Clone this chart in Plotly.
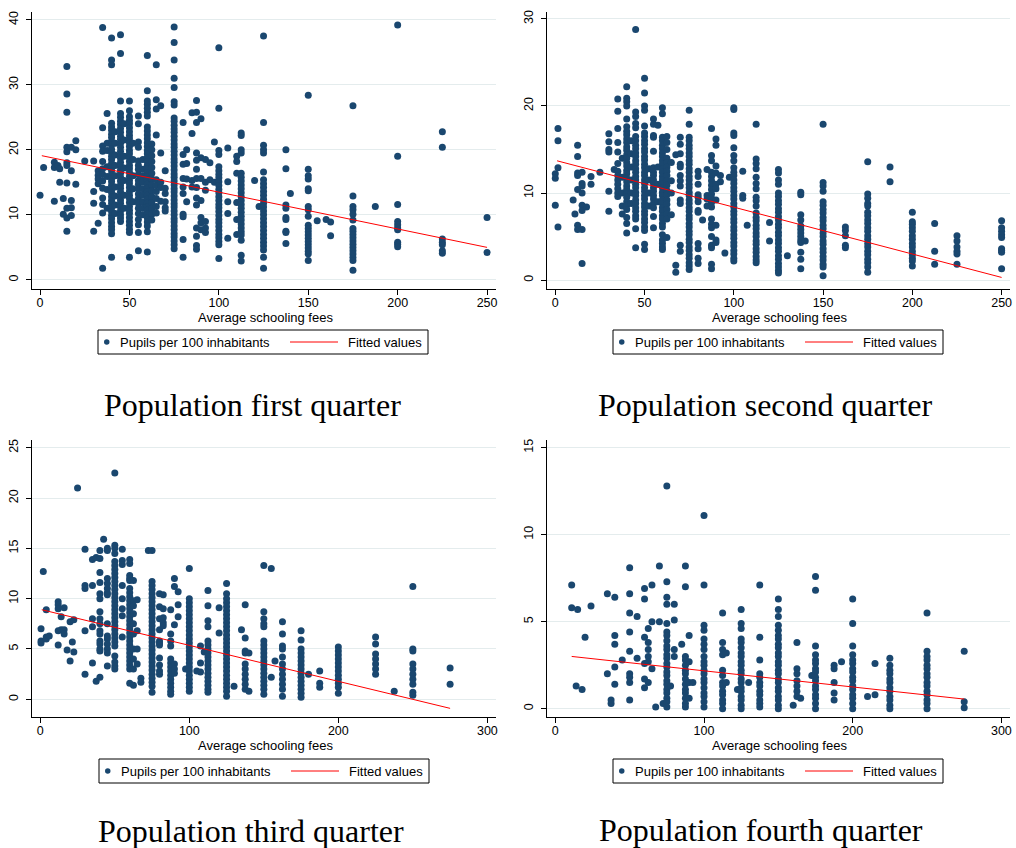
import plotly.graph_objects as go

# ---------------- data: fee values and pupils per 100 inhabitants ----------------
q1_fees = [0, 2, 8, 10, 11, 13, 15, 17.5, 20, 25, 30, 32.5, 35, 37.5, 40, 42, 45, 47, 50, 52,
           55, 57.5, 60, 62.5, 65, 67.5, 70, 75, 80, 82, 85, 87.5, 90, 92.5, 95, 97.5, 100, 105,
           110, 112.5, 120, 122.5, 125, 137.5, 140, 150, 155, 160, 162.5, 175, 187.5, 200, 225, 250]
q1_pupils = [
    [13.0], [17.3], [18.1, 17.3, 12.1], [17.6], [17.1, 15.0], [12.5, 10.1],
    [32.8, 28.6, 25.8, 20.4, 19.7, 18.0, 17.6, 14.9, 11.0, 9.5, 7.5],
    [20.4, 16.8, 12.2, 11.1, 9.9], [21.4, 20.0, 14.7], [18.3], [18.3, 13.6, 11.8, 7.5],
    [16.8, 16.1, 15.5, 14.8, 8.7],
    [38.8, 23.4, 20.6, 19.8, 18.2, 17.1, 16.2, 15.2, 14.1, 12.6, 11.6, 10.3, 1.8],
    [25.6, 21.0, 19.9, 17.4, 15.9, 13.9, 11.0],
    [37.2, 33.8, 33.1, 24.1, 23.5, 23.0, 22.4, 21.9, 21.3, 20.8, 20.1, 19.6, 19.0, 18.5, 17.9, 17.3,
     16.8, 16.2, 15.6, 15.1, 14.5, 13.9, 13.4, 12.8, 12.2, 11.7, 11.1, 10.5, 9.9, 9.4, 8.8, 8.2,
     7.7, 7.1, 3.5],
    [22.8, 21.0, 19.2, 17.6, 16.0, 14.3, 12.9, 11.5, 10.2],
    [37.7, 34.8, 27.5, 25.6, 25.0, 24.4, 23.9, 23.3, 22.7, 22.1, 21.6, 21.0, 20.4, 19.8, 19.2, 18.7,
     18.1, 17.5, 16.9, 16.4, 15.8, 15.2, 14.6, 14.1, 13.5, 12.9, 12.3, 11.8, 11.2, 10.6, 10.0, 9.5, 9.0],
    [24.0, 21.5, 19.0, 17.2, 15.3, 13.0, 11.0],
    [27.5, 26.0, 25.1, 24.5, 24.0, 23.4, 22.8, 22.2, 21.7, 21.1, 20.5, 19.9, 19.4, 18.8, 18.2, 17.6,
     17.1, 16.5, 15.9, 15.3, 14.8, 14.2, 13.6, 13.0, 12.5, 11.9, 11.3, 10.7, 10.2, 9.6, 9.0, 8.4,
     7.8, 7.3, 3.5],
    [21.0, 18.5, 16.0, 14.0, 12.0],
    [25.2, 24.0, 21.2, 20.4, 18.3, 17.6, 17.0, 16.2, 15.3, 14.7, 14.0, 13.2, 12.5, 11.8, 11.0, 10.2,
     9.3, 8.5, 7.3, 4.5],
    [18.5, 17.0, 16.0, 15.0, 14.0, 13.0, 12.0, 11.0, 10.0],
    [34.5, 29.1, 27.5, 27.0, 26.4, 25.8, 25.2, 23.5, 22.9, 22.3, 21.7, 21.1, 20.5, 19.9, 19.4, 18.8,
     18.2, 17.6, 17.0, 16.5, 15.9, 15.3, 14.7, 14.1, 13.6, 13.0, 12.4, 11.8, 11.2, 10.7, 10.1, 9.5,
     8.9, 8.3, 7.4, 4.3],
    [20.9, 20.0, 19.1, 18.2, 17.3, 16.4, 15.5, 14.6, 13.7, 12.8, 11.9, 11.0, 10.1, 9.2],
    [33.1, 27.7, 26.3, 22.3, 15.4, 14.5, 13.6, 12.5, 11.3, 10.3],
    [26.8, 19.5, 15.0, 14.2, 12.1],
    [16.8, 14.1, 13.3, 12.0, 11.1, 10.6],
    [38.9, 36.5, 33.8, 31.0, 29.6, 27.4, 26.9, 24.9, 24.4, 23.8, 23.2, 22.7, 22.1, 21.5, 20.9, 20.4,
     19.8, 19.2, 18.6, 18.1, 17.5, 16.9, 16.3, 15.8, 15.2, 14.6, 14.0, 13.5, 12.9, 12.3, 11.7, 11.2,
     10.6, 10.0, 9.4, 8.9, 8.3, 7.7, 7.1, 6.6, 6.0, 5.4, 4.8],
    [24.2, 19.3, 17.8, 15.6, 14.3, 13.3, 10.1, 9.7, 6.2, 3.5],
    [20.0, 17.9, 15.5, 12.0],
    [25.7, 22.5, 15.3, 14.3],
    [27.6, 25.8, 24.2, 19.5, 18.4, 17.0, 15.6, 14.2, 12.6, 11.5, 8.0, 6.7, 5.3, 4.7],
    [24.8, 18.8, 15.6, 12.2, 9.6, 8.8, 7.7],
    [18.5, 15.0, 13.8, 9.0, 8.0, 7.3],
    [18.0, 15.4],
    [21.2, 15.0],
    [35.7, 26.4, 19.9, 19.3, 17.4, 16.8, 16.2, 15.7, 15.1, 14.5, 13.9, 13.4, 12.8, 12.2, 11.6, 11.1,
     10.5, 9.9, 9.3, 8.8, 8.2, 7.6, 7.0, 6.5, 5.9, 5.4, 3.3],
    [20.3, 15.1, 12.0, 10.2, 6.4],
    [19.0, 18.2, 16.4, 11.9, 9.3, 7.0],
    [22.6, 22.2, 20.0, 19.5, 16.4, 15.8, 15.2, 14.6, 14.0, 13.4, 12.8, 12.2, 11.6, 11.0, 10.4, 9.8,
     9.2, 8.6, 8.0, 7.4, 6.9, 6.1, 3.8, 2.9],
    [15.3],
    [11.3],
    [37.5, 24.2, 20.7, 20.0, 19.5, 16.6, 15.4, 14.8, 14.2, 13.6, 13.0, 12.4, 11.8, 11.2, 10.6, 10.0,
     9.4, 8.8, 8.2, 7.6, 7.0, 6.4, 5.8, 5.2, 4.6, 3.5, 1.8],
    [20.0, 17.1, 11.5, 11.0, 9.6, 9.3, 7.5, 7.3, 5.6],
    [13.3],
    [28.4, 17.0, 16.0, 15.5, 14.0, 13.7, 11.3, 10.8, 9.8, 8.4, 7.9, 7.4, 6.9, 6.4, 5.9, 5.4, 4.9,
     4.4, 4.0, 3.0],
    [9.1],
    [9.3],
    [8.9, 6.8],
    [26.8, 12.9, 11.3, 10.8, 10.1, 9.2, 7.9, 7.5, 7.0, 6.5, 6.0, 5.5, 5.0, 4.5, 4.0, 3.5, 3.0, 1.5],
    [11.3],
    [39.2, 19.0, 11.6, 9.0, 8.5, 8.0, 7.7, 5.8, 5.5, 5.1],
    [22.8, 20.4, 6.3, 5.8, 5.4, 4.5, 4.1],
    [9.6, 4.2],
]
q1_fit_x = [1, 250]
q1_fit_y = [19.1, 5.0]

q2_fees = [0, 1.5, 10, 11, 12.5, 15, 17.5, 20, 25, 30, 33, 35, 37.5, 40, 42.5, 45, 50, 52.5, 55,
           57.5, 60, 62.5, 65, 67.5, 70, 75, 80, 82.5, 85, 87.5, 90, 92.5, 95, 97.5, 100, 105,
           107.5, 112.5, 120, 125, 130, 137.5, 140, 150, 162.5, 175, 187.5, 200, 212.5, 225, 250]
q2_pupils = [
    [12.2, 11.7, 8.6], [17.4, 16.0, 12.9, 6.1], [9.2], [7.6],
    [15.5, 14.2, 12.3, 12.0, 10.4, 6.3, 5.8],
    [12.4, 11.1, 10.8, 10.0, 8.6, 8.0, 5.8, 1.9], [8.4], [11.9, 11.0], [12.4],
    [16.8, 15.9, 15.0, 14.7, 10.2, 7.9], [12.7],
    [20.8, 19.4, 17.4, 15.8, 14.7, 13.4, 12.5, 12.0, 11.5, 11.0, 10.5, 10.0, 9.6],
    [14.0, 11.8, 10.0, 8.5, 7.6],
    [22.2, 20.9, 20.5, 20.0, 18.5, 17.6, 17.1, 16.7, 16.2, 15.8, 15.3, 14.9, 14.4, 14.0, 13.5, 13.1,
     12.6, 12.2, 11.7, 11.3, 10.8, 10.4, 9.9, 9.5, 9.0, 8.6, 8.1, 7.2, 6.5, 5.4],
    [16.0, 14.5, 13.0, 11.5, 10.0, 8.8],
    [28.8, 19.3, 18.8, 18.0, 17.5, 16.5, 16.0, 15.5, 15.1, 14.6, 14.2, 13.7, 13.3, 12.8, 12.4, 11.9,
     11.5, 11.0, 10.6, 10.1, 9.7, 9.2, 8.8, 8.3, 7.9, 7.4, 7.0, 5.9, 3.7],
    [23.2, 21.5, 20.0, 19.5, 17.7, 16.9, 16.5, 16.0, 15.6, 15.1, 14.7, 14.2, 13.8, 13.3, 12.9, 12.4,
     12.0, 11.5, 11.1, 10.6, 10.2, 9.7, 9.3, 8.8, 8.4, 7.9, 7.5, 7.0, 6.6, 6.1, 5.7, 4.1, 3.5],
    [12.8, 11.5, 10.0, 8.5],
    [18.5, 17.9, 16.6, 16.4, 14.8, 12.9, 12.4, 12.0, 11.5, 11.1, 10.6, 10.2, 9.7, 9.3, 8.8, 8.3,
     7.3, 6.0],
    [17.8, 13.0, 11.0, 9.0],
    [19.8, 19.1, 16.4, 16.0, 15.5, 15.1, 14.6, 14.2, 13.7, 13.3, 12.8, 12.4, 11.9, 11.5, 11.0, 10.6,
     10.1, 9.7, 9.2, 8.8, 8.3, 7.9, 7.4, 7.0, 6.5, 6.1, 5.2, 4.6, 4.2, 3.8, 3.5],
    [16.5, 15.8, 15.0, 14.0, 13.5, 13.0, 12.5, 12.0, 11.4, 10.9, 10.3, 9.8, 9.2, 8.7, 8.1, 7.6,
     7.0, 4.9],
    [13.5, 11.4, 10.0, 7.5],
    [14.4, 1.7, 0.9],
    [16.4, 15.6, 14.5, 13.3, 13.0, 12.0, 11.4, 10.8, 9.2, 8.8, 4.0, 3.3],
    [19.5, 17.9, 16.4, 16.0, 15.5, 15.1, 14.6, 14.2, 13.7, 13.3, 12.8, 12.4, 11.9, 11.5, 11.0, 10.6,
     10.1, 9.7, 9.2, 8.8, 8.3, 7.9, 7.4, 7.0, 6.5, 6.1, 5.6, 5.2, 4.7, 4.3, 3.8, 3.4, 2.9, 2.5,
     2.0, 1.6, 1.2],
    [12.5, 11.9, 11.0, 9.8, 9.5, 9.0, 8.0, 7.8, 4.2, 3.6, 2.5, 1.9],
    [6.9],
    [12.7, 9.7, 9.3, 8.5],
    [17.4, 14.3, 13.7, 12.4, 11.9, 11.4, 10.9, 10.4, 9.9, 9.4, 8.9, 8.4, 7.0, 6.4, 6.0, 5.0, 4.0,
     3.7, 1.8, 1.3],
    [16.2, 15.5, 13.1, 12.3, 11.0, 10.5, 9.2, 6.3, 4.6, 4.3],
    [12.0, 11.3],
    [3.1],
    [11.8],
    [19.8, 19.6, 16.9, 16.6, 15.2, 14.3, 13.7, 12.9, 12.4, 12.0, 11.5, 11.1, 10.6, 10.2, 9.7, 9.3,
     8.8, 8.4, 7.9, 7.5, 7.0, 6.6, 6.1, 5.7, 5.2, 4.8, 4.3, 3.9, 3.4, 3.0, 2.5, 2.2],
    [12.5, 9.7, 9.4],
    [6.3],
    [17.9, 13.9, 13.4, 12.8, 11.8, 11.1, 10.5, 9.5, 9.1, 8.5, 7.7, 7.2, 6.8, 6.3, 5.9, 5.4, 5.0,
     4.5, 4.1, 3.6, 3.2, 2.7, 2.3, 2.0],
    [6.6, 4.5],
    [12.7, 12.3, 11.5, 11.0, 10.0, 9.6, 9.1, 8.7, 8.2, 7.8, 7.3, 6.9, 6.4, 6.0, 5.5, 5.1, 4.6, 4.2,
     3.7, 3.3, 2.8, 2.4, 1.9, 1.5, 1.1, 0.8],
    [2.8],
    [10.1, 9.8, 7.5, 6.9, 6.2, 5.8, 5.4, 5.0, 4.6, 4.3, 3.2, 2.4, 1.3],
    [4.5],
    [17.9, 11.2, 10.8, 10.2, 9.0, 8.6, 8.1, 7.7, 7.2, 6.8, 6.3, 5.9, 5.4, 5.0, 4.5, 4.1, 3.6, 3.2,
     2.7, 2.3, 1.8, 1.5, 0.5],
    [6.1, 5.7, 5.1, 4.0, 3.7],
    [13.6, 9.9, 9.4, 8.8, 8.5, 7.8, 7.4, 6.9, 6.5, 6.0, 5.6, 5.1, 4.7, 4.2, 3.8, 3.3, 2.9, 2.4,
     2.0, 1.5, 0.9],
    [13.0, 11.3],
    [7.8, 6.7, 6.4, 6.0, 5.6, 5.1, 4.7, 4.2, 3.8, 3.3, 2.9, 2.5, 2.2, 1.6],
    [6.5, 3.3, 1.8],
    [5.1, 4.5, 3.8, 3.3, 3.0, 1.8],
    [6.8, 6.0, 5.6, 5.2, 4.9, 3.6, 3.4, 3.2, 1.3],
]
q2_fit_x = [1, 250]
q2_fit_y = [13.7, 0.3]

q3_fees = [0.5, 2, 4, 6, 12, 14, 16, 18, 20, 21.5, 22.5, 25, 30, 35, 37.5, 40, 42.5, 45, 50, 55,
           60, 62.5, 65, 67.5, 72.5, 75, 80, 82.5, 87.5, 90, 92.5, 97.5, 100, 105, 107.5, 110,
           112.5, 120, 125, 130, 135, 137.5, 140, 150, 155, 157.5, 162.5, 175, 180, 187.5, 200,
           225, 237.5, 250, 275]
q3_pupils = [
    [7.0, 5.8, 5.6], [12.7], [8.9, 6.2, 6.0], [6.3], [9.7, 9.4, 9.0, 6.8, 5.4], [8.2, 6.9],
    [9.1, 6.9, 6.5], [4.9], [7.7, 3.8], [5.7], [7.9, 4.7], [21.0],
    [14.9, 11.3, 11.0, 6.8, 2.5], [13.9, 11.3, 8.0, 7.2, 3.6], [14.1, 1.8],
    [14.8, 14.0, 12.6, 11.6, 10.5, 10.0, 8.7, 8.0, 7.5, 6.8, 6.5, 5.8, 5.5, 5.0, 4.8, 2.2],
    [15.9],
    [15.0, 14.8, 12.0, 11.5, 11.0, 10.6, 10.4, 7.5, 6.3, 6.0, 5.5, 5.0, 4.6, 3.3],
    [22.5, 15.3, 15.0, 14.5, 13.7, 13.3, 12.9, 12.5, 12.1, 11.7, 11.3, 10.9, 10.5, 10.1, 9.7, 9.3,
     8.9, 8.5, 8.1, 7.7, 7.3, 6.9, 6.5, 6.1, 5.7, 5.3, 4.3, 3.7, 3.3, 3.0],
    [14.9, 13.8, 13.4, 11.3, 10.0, 9.0, 8.3, 6.2],
    [13.9, 13.5, 12.3, 12.0, 11.8, 11.0, 10.6, 10.2, 9.8, 9.4, 9.0, 8.6, 8.2, 7.8, 7.4, 7.0, 6.6,
     6.2, 5.8, 5.4, 5.0, 4.6, 4.2, 3.8, 3.4, 3.0, 1.6],
    [11.8, 9.8, 9.3, 8.5, 7.5, 6.5, 5.0, 4.0, 3.0, 1.4],
    [9.9, 6.8, 5.0, 3.5],
    [2.1, 1.7],
    [14.8],
    [14.8, 11.7, 11.3, 10.9, 10.5, 10.1, 9.7, 9.3, 8.9, 8.5, 8.1, 7.7, 7.3, 6.9, 6.5, 6.1, 5.7,
     5.3, 4.9, 4.5, 4.1, 3.7, 3.3, 2.9, 2.5, 2.1, 1.7, 1.3, 0.7],
    [10.5, 9.2, 8.0, 6.9, 5.8, 5.6, 5.4, 4.1, 3.4, 2.8, 2.5],
    [10.4, 9.0, 8.1, 7.6, 7.3],
    [8.9, 6.5, 5.8, 5.3, 4.0, 3.6, 3.2, 2.8, 2.4, 2.0, 1.6, 1.2, 0.8, 0.5],
    [12.0, 11.2, 7.4, 3.5, 3.0, 2.6],
    [10.7, 9.4, 8.2],
    [3.0],
    [13.0, 10.0, 9.6, 9.2, 8.8, 8.4, 8.0, 7.6, 7.2, 6.8, 6.4, 6.0, 5.6, 5.2, 4.8, 4.4, 4.0, 3.6,
     3.2, 2.8, 2.4, 2.0, 1.6, 1.2, 0.8],
    [2.8],
    [5.3, 3.6, 2.7],
    [4.7],
    [10.8, 9.3, 7.8, 7.2, 5.8, 5.4, 5.0, 4.6, 4.2, 3.8, 3.4, 3.0, 2.6, 2.2, 1.8, 1.4, 1.0, 0.7],
    [9.1, 6.6],
    [11.5, 10.5, 10.0, 9.6, 9.2, 8.8, 8.4, 8.0, 7.6, 7.2, 6.8, 6.4, 6.0, 5.6, 5.2, 4.8, 4.4, 4.0,
     3.6, 3.2, 2.8, 2.4, 2.0, 1.6, 1.2, 0.8, 0.3],
    [1.3],
    [6.9],
    [9.4, 6.1, 4.8, 4.6, 3.5, 3.0, 2.5, 2.0, 1.5, 1.0],
    [4.6, 0.8],
    [13.3, 8.7, 8.0, 7.5, 7.2, 5.8, 5.4, 5.0, 4.6, 4.2, 3.8, 3.4, 3.0, 2.6, 2.2, 1.8, 1.4, 1.0, 0.5],
    [13.0, 2.2],
    [3.8],
    [7.7, 6.5, 5.3, 5.0, 4.2, 3.5, 3.0, 2.5, 2.0, 1.5, 1.0, 0.3],
    [6.8, 5.9, 5.0, 4.6, 4.2, 3.8, 3.4, 3.0, 2.6, 2.2, 1.8, 1.4, 1.0, 0.6, 0.2],
    [2.5],
    [2.8, 1.6, 1.2],
    [5.2, 4.8, 4.4, 4.0, 3.6, 3.2, 2.8, 2.4, 2.0, 1.6, 1.2, 0.6],
    [6.2, 5.5, 4.5, 4.0, 3.5, 3.0, 2.5],
    [0.8],
    [11.2, 5.0, 4.8, 3.5, 3.0, 2.5, 2.0, 1.5, 0.7, 0.4],
    [3.1, 1.5],
]
q3_fit_x = [1, 275]
q3_fit_y = [8.9, -0.9]

q4_fees = [11, 14, 15, 18, 20, 24, 35, 37.5, 40, 45, 50, 55, 60, 62.5, 65, 67.5, 70, 72.5, 75,
           77.5, 80, 85, 87.5, 90, 92.5, 100, 112.5, 115, 122.5, 125, 130, 137.5, 150, 160,
           162.5, 165, 172.5, 175, 187.5, 192.5, 200, 210, 215, 225, 250, 275]
q4_pupils = [
    [7.1, 5.8], [1.3], [5.7], [1.1], [4.1], [5.9], [6.6, 2.0], [0.5, 0.3],
    [6.4, 4.2, 3.7, 2.4, 1.4], [2.8],
    [8.1, 6.6, 5.5, 4.4, 3.3, 2.0, 1.8, 1.5, 0.5],
    [5.3, 2.9],
    [6.9, 6.3, 4.1, 2.6, 1.7, 1.2],
    [4.6, 3.8, 3.4, 3.0, 2.7, 1.5],
    [7.1, 5.0, 2.3],
    [0.1],
    [8.2, 5.0],
    [0.3],
    [12.8, 7.3, 6.4, 6.0, 4.9, 4.4, 4.2, 3.9, 3.6, 3.4, 3.1, 2.9, 2.6, 2.4, 2.1, 1.9, 1.6, 1.4,
     1.1, 0.9, 0.6, 0.4, 0.1],
    [1.3],
    [6.0, 5.1, 3.4, 3.0],
    [3.7],
    [8.2, 7.0, 3.0, 2.8, 2.5, 2.2, 2.0, 1.7, 1.4, 1.1, 0.9, 0.6, 0.3, 0.1],
    [4.2, 2.7, 1.5, 0.6],
    [1.5],
    [11.1, 7.1, 4.8, 4.5, 4.0, 3.7, 3.4, 3.0, 2.7, 2.5, 2.2, 2.0, 1.7, 1.5, 1.2, 0.9, 0.7, 0.4, 0.1],
    [5.5, 3.8, 3.4, 3.1, 2.2, 1.9, 1.5, 1.3, 1.0, 0.8, 0.5, 0.3, 0.0],
    [3.2, 1.5],
    [1.1],
    [5.7, 4.9, 4.6, 4.0, 3.8, 3.5, 3.2, 3.0, 2.7, 2.5, 2.2, 2.0, 1.7, 1.5, 1.2, 1.0, 0.7, 0.5,
     0.2, 0.0],
    [1.5],
    [7.1, 4.1, 2.8, 2.0, 1.8, 1.5, 1.3, 1.0, 0.8, 0.5, 0.3, 0.1],
    [6.3, 5.7, 5.3, 4.8, 4.5, 4.2, 4.0, 3.7, 3.5, 3.2, 3.0, 2.7, 2.5, 2.2, 2.0, 1.7, 1.5, 1.2,
     1.0, 0.7, 0.5, 0.2, 0.0],
    [0.2],
    [3.8, 2.3, 2.0, 1.6, 1.3, 1.0, 0.7],
    [0.6],
    [1.9],
    [7.6, 6.8, 3.6, 3.1, 2.8, 2.6, 2.3, 2.1, 1.8, 1.6, 1.3, 1.1, 0.8, 0.6, 0.3, 0.0],
    [2.5, 2.3, 1.5, 0.9, 0.5],
    [2.7],
    [6.3, 4.9, 3.6, 3.1, 2.8, 2.6, 2.3, 2.1, 1.8, 1.6, 1.3, 1.1, 0.8, 0.6, 0.3, 0.0],
    [0.7],
    [2.6, 0.8],
    [2.9, 2.5, 2.2, 2.0, 1.7, 1.5, 1.2, 1.0, 0.7, 0.5, 0.2, 0.0],
    [5.5, 3.3, 3.0, 2.8, 2.5, 2.3, 2.0, 1.8, 1.5, 1.3, 1.0, 0.8, 0.5, 0.3, 0.0],
    [3.3, 0.4, 0.05],
]
q4_fit_x = [11, 275]
q4_fit_y = [3.0, 0.55]

panel_titles = ["Population first quarter", "Population second quarter",
                "Population third quarter", "Population fourth quarter"]
series_names = ["Pupils per 100 inhabitants", "Fitted values"]
x_title = "Average schooling fees"
x_ticks_top = [0, 50, 100, 150, 200, 250]
x_ticks_bottom = [0, 100, 200, 300]
y_ticks = [[0, 10, 20, 30, 40], [0, 10, 20, 30], [0, 5, 10, 15, 20, 25], [0, 5, 10, 15]]


def flatten(fees, pupils):
    xs, ys = [], []
    for f, col in zip(fees, pupils):
        xs += [f] * len(col)
        ys += col
    return xs, ys


W, H = 1016, 848
NAVY = "#1a476f"
SANS = "Liberation Sans, Arial, sans-serif"
SERIF = "Liberation Serif, Times New Roman, serif"

panels = [
    dict(fees=q1_fees, pupils=q1_pupils, fx=q1_fit_x, fy=q1_fit_y, xr=[-4.5, 255], yr=[-1.4, 41.2],
         xt=x_ticks_top, px=(32, 496), py=(12, 289), leg=(98, 330), xtl=317, ttl=(252, 405)),
    dict(fees=q2_fees, pupils=q2_pupils, fx=q2_fit_x, fy=q2_fit_y, xr=[-4.65, 254.7], yr=[-1.03, 30.8],
         xt=x_ticks_top, px=(547, 1010), py=(12, 289), leg=(613, 330), xtl=317, ttl=(765, 405)),
    dict(fees=q3_fees, pupils=q3_pupils, fx=q3_fit_x, fy=q3_fit_y, xr=[-5.57, 305.8], yr=[-1.76, 25.77],
         xt=x_ticks_bottom, px=(32, 496), py=(440, 717), leg=(99, 759), xtl=745, ttl=(251, 831)),
    dict(fees=q4_fees, pupils=q4_pupils, fx=q4_fit_x, fy=q4_fit_y, xr=[-5.6, 305.8], yr=[-0.48, 15.44],
         xt=x_ticks_bottom, px=(547, 1010), py=(440, 717), leg=(613, 759), xtl=745, ttl=(761, 830)),
]


def px2x(v):
    return v / W


def px2y(v):
    return 1 - v / H


fig = go.Figure()
layout = dict(
    width=W, height=H,
    margin=dict(l=0, r=0, t=0, b=0, autoexpand=False),
    paper_bgcolor="white", plot_bgcolor="white",
    font=dict(family=SANS, size=13, color="black"),
    showlegend=False,
    annotations=[], shapes=[],
)

for i, p in enumerate(panels):
    n = "" if i == 0 else str(i + 1)
    xs, ys = flatten(p["fees"], p["pupils"])
    fig.add_trace(go.Scatter(
        x=xs, y=ys, mode="markers", name=series_names[0],
        marker=dict(color=NAVY, size=7, line=dict(width=0)),
        xaxis="x" + n, yaxis="y" + n))
    fig.add_trace(go.Scatter(
        x=p["fx"], y=p["fy"], mode="lines", name=series_names[1],
        line=dict(color="red", width=1),
        xaxis="x" + n, yaxis="y" + n))

    layout["xaxis" + n] = dict(
        domain=[px2x(p["px"][0]), px2x(p["px"][1])], range=p["xr"], anchor="y" + n,
        tickvals=p["xt"], ticks="outside", ticklen=5, tickcolor="black", ticklabelstandoff=-3,
        showline=True, linecolor="black", linewidth=1, showgrid=False, zeroline=False,
        tickfont=dict(size=12.5, color="black"))
    layout["yaxis" + n] = dict(
        domain=[px2y(p["py"][1]), px2y(p["py"][0])], range=p["yr"], anchor="x" + n,
        tickvals=y_ticks[i], ticks="outside", ticklen=5, tickcolor="black", tickangle=-90,
        ticklabelstandoff=3,
        showline=True, linecolor="black", linewidth=1, showgrid=True, gridcolor="#e4eced",
        gridwidth=1, zeroline=False, tickfont=dict(size=12.5, color="black"))

    # x-axis title
    layout["annotations"].append(dict(
        text=x_title, x=px2x((p["px"][0] + p["px"][1]) / 2 + 1), y=px2y(p["xtl"]),
        xref="paper", yref="paper", xanchor="center", yanchor="middle", showarrow=False,
        font=dict(size=13, color="black")))

    # legend box (Stata style)
    lx, ly = p["leg"]
    lw, lh = 330, 24
    cy = ly + lh / 2
    layout["shapes"].append(dict(type="rect", xref="paper", yref="paper",
                                 x0=px2x(lx), x1=px2x(lx + lw), y0=px2y(ly), y1=px2y(ly + lh),
                                 line=dict(color="black", width=1), fillcolor="white"))
    layout["shapes"].append(dict(type="circle", xref="paper", yref="paper",
                                 x0=px2x(lx + 6), x1=px2x(lx + 11.5), y0=px2y(cy - 2.75),
                                 y1=px2y(cy + 2.75), line=dict(width=0), fillcolor=NAVY))
    layout["shapes"].append(dict(type="line", xref="paper", yref="paper",
                                 x0=px2x(lx + 192), x1=px2x(lx + 240), y0=px2y(cy), y1=px2y(cy),
                                 line=dict(color="red", width=1)))
    layout["annotations"].append(dict(
        text=series_names[0], x=px2x(lx + 19.5), y=px2y(cy), xref="paper", yref="paper",
        xanchor="left", yanchor="middle", showarrow=False, font=dict(size=13, color="black")))
    layout["annotations"].append(dict(
        text=series_names[1], x=px2x(lx + 248), y=px2y(cy), xref="paper", yref="paper",
        xanchor="left", yanchor="middle", showarrow=False, font=dict(size=13, color="black")))

    # panel title
    layout["annotations"].append(dict(
        text=panel_titles[i], x=px2x(p["ttl"][0]), y=px2y(p["ttl"][1]), xref="paper", yref="paper",
        xanchor="center", yanchor="middle", showarrow=False,
        font=dict(family=SERIF, size=32, color="black")))

fig.update_layout(**layout)
fig.write_html("out.html", config={"displayModeBar": False},
               post_script="document.body.style.margin='0';document.body.style.overflow='hidden';")
